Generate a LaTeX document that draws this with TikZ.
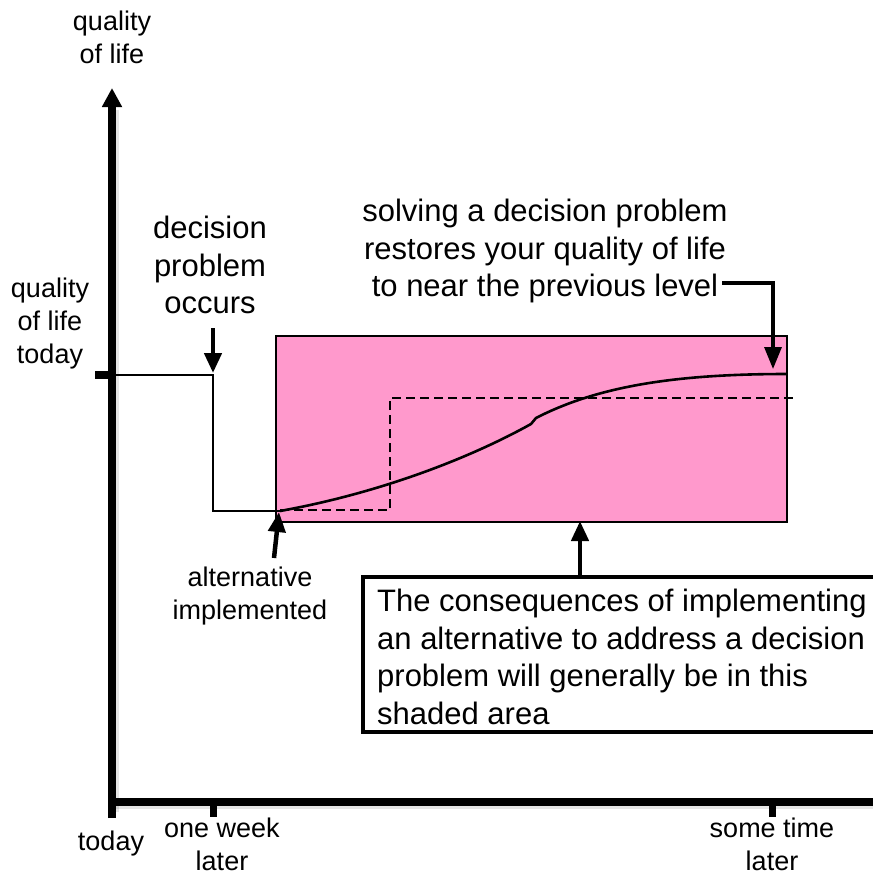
\documentclass[tikz,border=0pt]{standalone}
\usepackage{fontspec}
\setmainfont{Liberation Sans}
\usetikzlibrary{arrows.meta}
\definecolor{shade}{HTML}{FF99CC}
\tikzset{
  axis/.style={line width=8.5pt},
  axshadow/.style={line width=7pt, black, opacity=0.10},
  thin/.style={line width=2.4pt, line join=miter},
  dashline/.style={line width=2.8pt, dash pattern=on 9pt off 5pt},
  bigarrow/.style={line width=4.5pt, -{Triangle[width=17pt,length=20pt]}},
  big/.style={font=\fontsize{31}{37.5}\selectfont, align=center, inner sep=0pt},
  small/.style={font=\fontsize{27}{33}\selectfont, align=center, inner sep=0pt},
}
\begin{document}
\begin{tikzpicture}[x=1pt,y=-1pt]
\useasboundingbox (0,0) rectangle (873,876);
\clip (0,0) rectangle (873,876);

% axes with a soft shadow
\coordinate (origin) at (112,802);
\coordinate (ytop) at (112,88);
\coordinate (xend) at (880,802);
\draw[axshadow] (115,812) -- (115,110);
\draw[axshadow] (116,805) -- (880,805);
\draw[axis, -{Triangle[width=19pt,length=19pt]}] (112,818) -- (ytop);
\draw[axis] (108,802) -- (xend);
\draw[line width=7pt] (213,802) -- (213,817);
\draw[line width=7pt] (772,802) -- (772,817);
\draw[line width=8pt] (95,375) -- (112,375);

% axis labels
\node[small] (ylab) at (112,37) {quality\\of life};
\node[small] (qtoday) at (50,324) {quality\\of life\\today};
\node[small] (today) at (111,844) {today};
\node[small] (week) at (222,844) {one week\\later};
\node[small] (later) at (772,844) {some time\\later};

% shaded region of possible consequences
\draw[thin, fill=shade] (276,336) rectangle (787,522);

% quality of life before and after the decision problem
\draw[thin] (112,375) -- (213,375) -- (213,511) -- (280,511);
\draw[dashline] (280,510) -- (390,510) -- (390,398) -- (794,398);
\draw[line width=2.6pt] (280,511) .. controls (380,493) and (470,458) .. (531,424)
  -- (536,418) .. controls (600,385) and (680,374) .. (787,374);

% decision problem occurs
\node[big] (occurs) at (210,265) {decision\\problem\\occurs};
\coordinate (occTail) at (213,328);
\coordinate (occTip) at (213,373);
\draw[bigarrow] (occTail) -- (occTip);

% alternative implemented
\node[small] (alt) at (250,596) {alternative\\implemented};
\coordinate (altTail) at (274,558);
\coordinate (altTip) at (279,512);
\draw[bigarrow] (altTail) -- (altTip);

% restoring quality of life
\node[big] (restore) at (545,251) {solving a decision problem\\restores your quality of life\\to near the previous level};
\coordinate (rStart) at (722,283);
\coordinate (rCorner) at (773,283);
\coordinate (rTip) at (773,369);
\draw[line width=3.2pt, -{Triangle[width=17pt,length=22pt]}] (rStart) -- (rCorner) -- (rTip);

% explanation box
\draw[line width=4.5pt, fill=white] (363,577) rectangle (900,732);
\node[big, align=left, anchor=west] (expl) at (377,657)
  {The consequences of implementing\\an alternative to address a decision\\problem will generally be in this\\shaded area};
\coordinate (boxTop) at (580,575);
\coordinate (regionBottom) at (580,521);
\draw[bigarrow] (boxTop) -- (regionBottom);
\end{tikzpicture}
\end{document}
